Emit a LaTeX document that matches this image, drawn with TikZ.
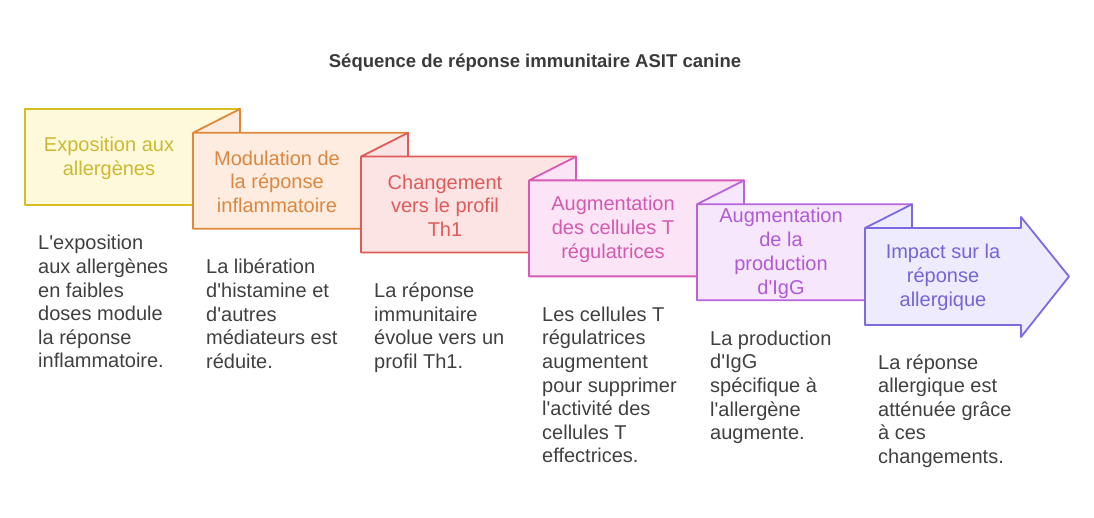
\documentclass[tikz,border=0pt]{standalone}
\usepackage{fontspec}
\setmainfont{Liberation Sans}[Ligatures=TeXOff]
\definecolor{titlec}{HTML}{3A3A3A}
\definecolor{desc}{HTML}{404040}
\definecolor{bA}{HTML}{D6C020}\definecolor{fA}{HTML}{FEF9DA}\definecolor{tA}{HTML}{CDB931}
\definecolor{bB}{HTML}{E0873A}\definecolor{fB}{HTML}{FDECDF}\definecolor{tB}{HTML}{DC8740}
\definecolor{bC}{HTML}{E05A5A}\definecolor{fC}{HTML}{FCE4E4}\definecolor{tC}{HTML}{DF5A5A}
\definecolor{bD}{HTML}{D859B6}\definecolor{fD}{HTML}{FBE4F5}\definecolor{tD}{HTML}{D35AAF}
\definecolor{bE}{HTML}{B865DD}\definecolor{fE}{HTML}{F6E7FC}\definecolor{tE}{HTML}{B15AD6}
\definecolor{bF}{HTML}{7B6BDD}\definecolor{fF}{HTML}{EDEBFD}\definecolor{tF}{HTML}{7565D6}
\begin{document}
\begin{tikzpicture}[x=1pt,y=-1pt,
  boxtxt/.style={align=center, font=\fontsize{20}{23.8}\selectfont, inner sep=0pt},
  desctxt/.style={anchor=base west, inner sep=0pt, text=desc, font=\fontsize{20}{23.6}\selectfont},
  shapeline/.style={line width=1.8pt, line join=round}]
\useasboundingbox (0,0) rectangle (1094,518);
\node[font=\bfseries\fontsize{18.5}{22}\selectfont, text=titlec, anchor=base] (title) at (535,68) {Séquence de réponse immunitaire ASIT canine};
% step shapes
\filldraw[shapeline, draw=bA, fill=fA] (25,109) rectangle (240,205);
\filldraw[shapeline, draw=bB, fill=fB] (193,132.8) -- (240,109) -- (240,132.8) -- cycle (193,132.8) rectangle (408,228.8);
\filldraw[shapeline, draw=bC, fill=fC] (361,156.6) -- (408,132.8) -- (408,156.6) -- cycle (361,156.6) rectangle (576,252.6);
\filldraw[shapeline, draw=bD, fill=fD] (529,180.4) -- (576,156.6) -- (576,180.4) -- cycle (529,180.4) rectangle (744,276.4);
\filldraw[shapeline, draw=bE, fill=fE] (697,204.2) -- (744,180.4) -- (744,204.2) -- cycle (697,204.2) rectangle (912,300.2);
\filldraw[shapeline, draw=bF, fill=fF] (865,228) -- (912,204.2) -- (912,228) -- cycle
  (865,228) -- (1021,228) -- (1021,217) -- (1069,276.5) -- (1021,337) -- (1021,325) -- (865,325) -- cycle;
% step labels
\node[boxtxt, text=tA] (s1) at (109,158) {Exposition aux\\allergènes};
\node[boxtxt, text=tB] (s2) at (277,181.8) {Modulation de\\la réponse\\inflammatoire};
\node[boxtxt, text=tC] (s3) at (445,205.6) {Changement\\vers le profil\\Th1};
\node[boxtxt, text=tD] (s4) at (613,229.4) {Augmentation\\des cellules T\\régulatrices};
\node[boxtxt, text=tE] (s5) at (781,253.2) {Augmentation\\de la\\production\\d'IgG};
\node[boxtxt, text=tF] (s6) at (943,277.5) {Impact sur la\\réponse\\allergique};
% descriptions
\node[desctxt] (d1) at (38,250) {\parbox[t]{160pt}{\raggedright L'exposition\\aux allergènes\\en faibles\\doses module\\la réponse\\inflammatoire.}};
\node[desctxt] (d2) at (206,273.8) {\parbox[t]{160pt}{\raggedright La libération\\d'histamine et\\d'autres\\médiateurs est\\réduite.}};
\node[desctxt] (d3) at (374,297.6) {\parbox[t]{160pt}{\raggedright La réponse\\immunitaire\\évolue vers un\\profil Th1.}};
\node[desctxt] (d4) at (542,321.4) {\parbox[t]{160pt}{\raggedright Les cellules T\\régulatrices\\augmentent\\pour supprimer\\l'activité des\\cellules T\\effectrices.}};
\node[desctxt] (d5) at (710,345.2) {\parbox[t]{160pt}{\raggedright La production\\d'IgG\\spécifique à\\l'allergène\\augmente.}};
\node[desctxt] (d6) at (878,369) {\parbox[t]{160pt}{\raggedright La réponse\\allergique est\\atténuée grâce\\à ces\\changements.}};
\end{tikzpicture}
\end{document}
